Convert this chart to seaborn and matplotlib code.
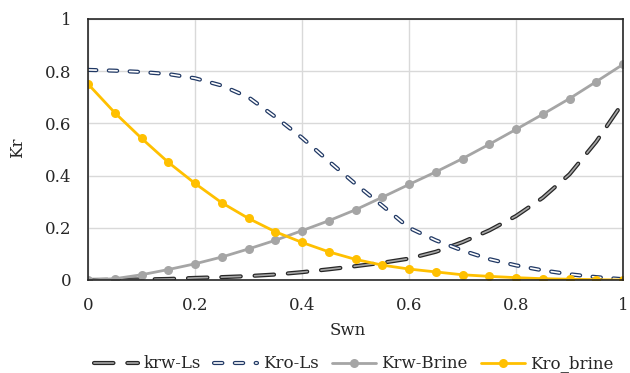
import numpy as np
import pandas as pd
import seaborn as sns
import matplotlib
matplotlib.use("Agg")
import matplotlib.pyplot as plt
import matplotlib.patheffects as pe

# Normalised water saturation
swn = [0.00, 0.05, 0.10, 0.15, 0.20, 0.25, 0.30, 0.35, 0.40, 0.45, 0.50,
       0.55, 0.60, 0.65, 0.70, 0.75, 0.80, 0.85, 0.90, 0.95, 1.00]

krw_ls = [0.000, 0.001, 0.002, 0.004, 0.008, 0.011, 0.015, 0.021, 0.030, 0.041, 0.053,
          0.066, 0.082, 0.108, 0.145, 0.190, 0.245, 0.315, 0.405, 0.530, 0.680]
kro_ls = [0.805, 0.802, 0.797, 0.789, 0.773, 0.745, 0.700, 0.625, 0.545, 0.455, 0.368,
          0.285, 0.200, 0.152, 0.113, 0.080, 0.056, 0.037, 0.022, 0.011, 0.003]
krw_brine = [0.000, 0.005, 0.020, 0.040, 0.062, 0.088, 0.119, 0.152, 0.189, 0.227, 0.269,
             0.317, 0.366, 0.414, 0.465, 0.520, 0.577, 0.635, 0.695, 0.760, 0.826]
kro_brine = [0.751, 0.641, 0.543, 0.451, 0.370, 0.296, 0.236, 0.185, 0.144, 0.108, 0.079,
             0.057, 0.042, 0.031, 0.020, 0.014, 0.009, 0.005, 0.003, 0.001, 0.000]

x_ticks = [0, 0.2, 0.4, 0.6, 0.8, 1]
x_tick_labels = ["0", "0.2", "0.4", "0.6", "0.8", "1"]
y_ticks = [0, 0.2, 0.4, 0.6, 0.8, 1]
y_tick_labels = ["0", "0.2", "0.4", "0.6", "0.8", "1"]

df = pd.DataFrame({"Swn": swn, "krw-Ls": krw_ls, "Kro-Ls": kro_ls,
                   "Krw-Brine": krw_brine, "Kro_brine": kro_brine})

sns.set_theme(style="whitegrid")
plt.rcParams["font.family"] = ["DejaVu Serif"]
plt.rcParams["lines.scale_dashes"] = False
text_color = "#262626"

fig = plt.figure(figsize=(6.3, 3.73), dpi=100)
ax = fig.add_axes([88 / 630, 1 - 280 / 373, 535 / 630, 261 / 373])

# Outlined dashed curves: dark outer stroke with a lighter core
sns.lineplot(data=df, x="Swn", y="krw-Ls", ax=ax, label="krw-Ls",
             color="#A6A6A6", linewidth=1.2, dashes=False,
             linestyle=(0, (14, 10)), dash_capstyle="round",
             path_effects=[pe.Stroke(linewidth=3.0, foreground="#262626"), pe.Normal()])
sns.lineplot(data=df, x="Swn", y="Kro-Ls", ax=ax, label="Kro-Ls",
             color="white", linewidth=1.2, dashes=False,
             linestyle=(0, (6, 9)), dash_capstyle="round",
             path_effects=[pe.Stroke(linewidth=3.0, foreground="#203864"), pe.Normal()])
sns.lineplot(data=df, x="Swn", y="Krw-Brine", ax=ax, label="Krw-Brine",
             color="#A5A5A5", linewidth=2.0, marker="o", markersize=6.5,
             markeredgewidth=0)
sns.lineplot(data=df, x="Swn", y="Kro_brine", ax=ax, label="Kro_brine",
             color="#FFC000", linewidth=2.0, marker="o", markersize=6.5,
             markeredgewidth=0)

ax.set_xlim(0, 1)
ax.set_ylim(0, 1)
ax.set_xticks(x_ticks)
ax.set_xticklabels(x_tick_labels)
ax.set_yticks(y_ticks)
ax.set_yticklabels(y_tick_labels)
ax.tick_params(axis="both", length=0, pad=12, labelsize=12, labelcolor=text_color)
ax.grid(True, color="#D9D9D9", linewidth=1.0)
ax.set_facecolor("white")
for side in ["left", "right", "top", "bottom"]:
    ax.spines[side].set_visible(True)
    ax.spines[side].set_color("#262626")
    ax.spines[side].set_linewidth(1.2)
    ax.spines[side].set_zorder(5)

ax.set_xlabel("Swn", fontsize=12, color=text_color, va="center")
ax.xaxis.set_label_coords(0.486, -0.195)
ax.set_ylabel("Kr", fontsize=12, color=text_color, va="center")
ax.yaxis.set_label_coords(-0.131, 0.506)

handles, labels = ax.get_legend_handles_labels()
ax.legend(handles, labels, loc="center", bbox_to_anchor=(354 / 630, 1 - 364 / 373),
          bbox_transform=fig.transFigure, ncol=4, frameon=False, fontsize=12,
          handlelength=2.6, handletextpad=0.35, columnspacing=0.8,
          labelcolor=text_color, borderpad=0)

fig.savefig("out.png", dpi=100, facecolor="white")
